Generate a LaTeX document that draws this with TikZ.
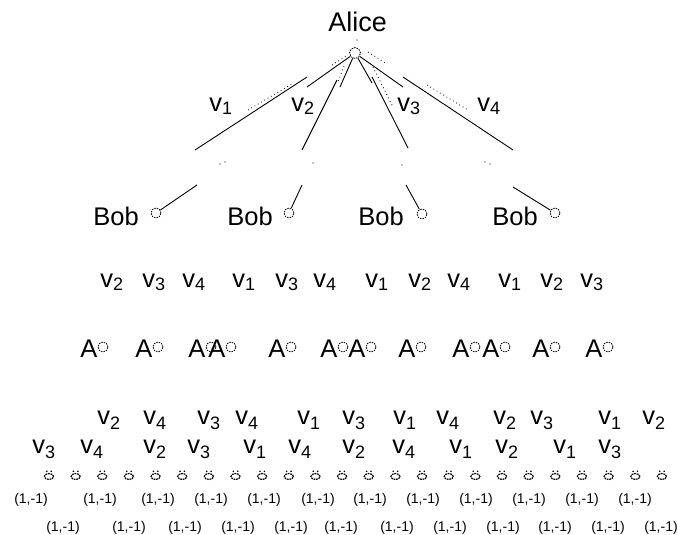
\documentclass[tikz,border=0pt]{standalone}
\usepackage{fontspec}
\setmainfont{Liberation Sans}
\newcommand\vlab[2]{v\raisebox{-#2}{\fontsize{18}{18}\selectfont #1}}
\begin{document}
\begin{tikzpicture}[x=1pt,y=-1pt, line width=0.9pt,
  txt/.style={anchor=base west, inner sep=0pt, font=\fontsize{25.5}{26}\selectfont},
  bigtxt/.style={anchor=base west, inner sep=0pt, font=\fontsize{25.5}{26}\selectfont},
  pay/.style={inner sep=0pt, font=\fontsize{14}{14}\selectfont},
  ring/.style={circle, draw, dash pattern=on 1.6pt off 1pt, minimum size=10pt, inner sep=0pt, line width=0.8pt},
  dotline/.style={line width=0.8pt, dash pattern=on 0.8pt off 3pt}]
\useasboundingbox (0,0) rectangle (678,535);

% ---- root ----
\node[anchor=base west, inner sep=0pt, font=\fontsize{27}{28}\selectfont] (alice) at (328,32) {Alice};
\node[ring, minimum size=11pt] (root) at (355,53) {};
\fill (357,40) circle (0.7pt);

% segment end points
\coordinate (a1) at (307,87);  \coordinate (b1s) at (307,77); \coordinate (b1e) at (195,150);
\coordinate (a2) at (340,87);  \coordinate (b2s) at (337,80); \coordinate (b2e) at (302,150);
\coordinate (a3) at (372,83);  \coordinate (b3s) at (372,77); \coordinate (b3e) at (408,148);
\coordinate (a4) at (403,87);  \coordinate (b4s) at (403,77); \coordinate (b4e) at (513,150);

\draw (root) -- (a1);  \draw (b1s) -- (b1e);
\draw (root) -- (a2);  \draw (b2s) -- (b2e);
\draw (root) -- (a3);  \draw (b3s) -- (b3e);
\draw (root) -- (a4);  \draw (b4s) -- (b4e);

% dotted companions
\draw[dotline] (332,65) -- (348,55);
\draw[dotline] (248,110) -- (292,84);
\draw[dotline] (344,66) -- (338,82);
\draw[dotline] (373,67) -- (393,107);
\draw[dotline] (368,52) -- (387,64);
\draw[dotline] (427,85) -- (468,110);

% stray dots
\foreach \x/\y in {220/164,225/162,313/163,402/165,485/162,490/164}
  \fill (\x,\y) circle (0.6pt);

% top labels
\node[txt] (t1) at (209,111) {\vlab{1}{3pt}};
\node[txt] (t2) at (291,111) {\vlab{2}{3pt}};
\node[txt] (t3) at (397,111) {\vlab{3}{3pt}};
\node[txt] (t4) at (477,111) {\vlab{4}{3pt}};

% ---- Bob level ----
\foreach \x [count=\i] in {93,227,358,492}
  \node[bigtxt] (bobt\i) at (\x,225) {Bob};
\node[ring] (bob1) at (156,213) {};
\node[ring] (bob2) at (289,213) {};
\node[ring] (bob3) at (422,214) {};
\node[ring] (bob4) at (555,213) {};
\coordinate (c1) at (197,185);
\coordinate (c2) at (302,185);
\coordinate (c3) at (406,185);
\coordinate (c4) at (513,187);
\draw (bob1) -- (c1);
\draw (bob2) -- (c2);
\draw (bob3) -- (c3);
\draw (bob4) -- (c4);

% row of v labels
\foreach \x/\n [count=\i] in {100/2,142/3,182/4,232/1,275/3,313/4,365/1,408/2,447/4,498/1,540/2,580/3}
  \node[txt] (r\i) at (\x,287) {\vlab{\n}{3pt}};

% row of A nodes
\foreach \x [count=\i] in {80,135,188,208,268,320,348,398,452,482,532,585}{
  \node[bigtxt] (A\i) at (\x,357) {A};
  \node[ring] (Ac\i) at (\x+23,347) {};
}

% bottom label rows
\foreach \x/\n [count=\i] in {97/2,143/4,197/3,235/4,297/1,342/3,393/1,436/4,493/2,530/3,598/1,642/2}
  \node[txt] (u\i) at (\x,424) {\vlab{\n}{5pt}};
\foreach \x/\n [count=\i] in {32/3,80/4,143/2,187/3,243/1,288/4,342/2,392/4,449/1,495/2,553/1,598/3}
  \node[txt] (w\i) at (\x,453) {\vlab{\n}{5pt}};

% leaves
\foreach \i in {0,...,23}{
  \pgfmathsetmacro\cx{49+26.65*\i}
  \draw[line width=1.2pt, dash pattern=on 1.8pt off 0.8pt] (\cx,476.5) ellipse (4.6pt and 3pt);
  \fill (\cx-2.2,471.3) circle (0.9pt);
  \fill (\cx+2.2,471.3) circle (0.9pt);
}

% payoffs
\foreach \x [count=\i] in {31,100,158,211,264,318,370,423,476,529,582,635}
  \node[pay] (p\i) at (\x,500) {(1,-1)};
\foreach \x [count=\i] in {63,129,185,238,291,341,397,450,503,555,608,661}
  \node[pay] (q\i) at (\x,528) {(1,-1)};
\end{tikzpicture}
\end{document}
